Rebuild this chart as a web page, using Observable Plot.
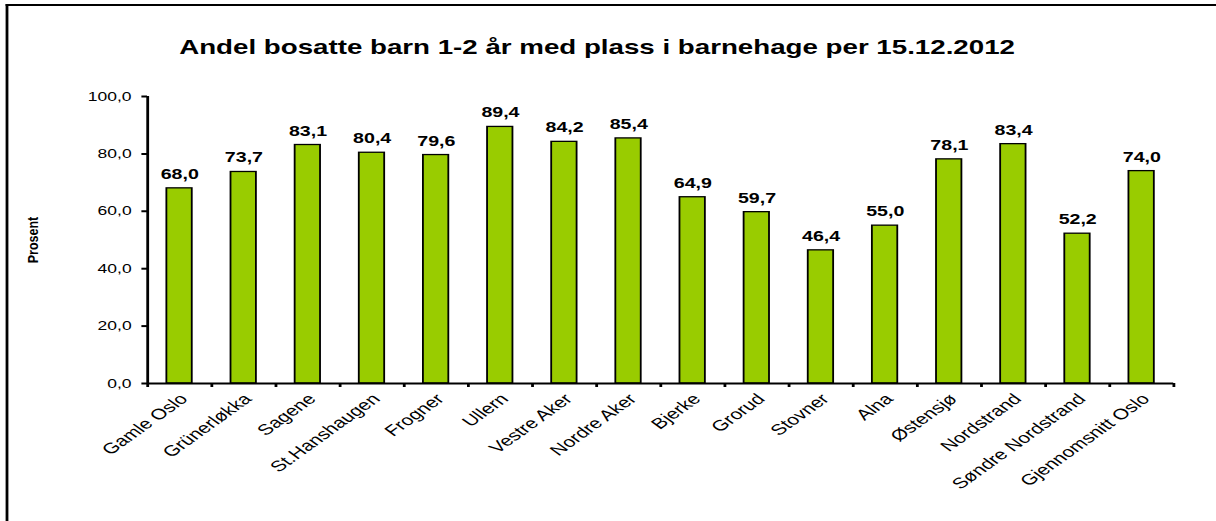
<!DOCTYPE html>
<html>
<head>
<meta charset="utf-8">
<script src="https://cdn.jsdelivr.net/npm/d3@7"></script>
<script src="https://cdn.jsdelivr.net/npm/@observablehq/plot@0.6"></script>
<style>
  html, body { margin: 0; padding: 0; background: #fff; overflow: hidden; }
  body { width: 1216px; height: 521px; position: relative; }
  #wrap { position: absolute; left: 0; top: 0; width: 868.57px; height: 521px; overflow: hidden;
          transform: scaleX(1.4); transform-origin: 0 0; font-family: Arial, "Liberation Sans", sans-serif; }
  #frame { position: absolute; left: 4.3px; top: 4px; width: 880px; height: 530px;
           border-top: 2.5px solid #000; border-left: 2.2px solid #000; box-sizing: border-box; }
  #title { position: absolute; left: 0; top: 38px; width: 853px; text-align: center;
           font-size: 19.8px; font-weight: bold; line-height: 19.8px; color: #000; white-space: nowrap; }
  #ylabel { position: absolute; left: 23.6px; top: 240px; font-size: 12.5px; font-weight: bold;
            white-space: nowrap; transform: translate(-50%, -50%) rotate(-90deg) scale(1, 0.8); }
  #chart { position: absolute; left: 0; top: 70px; width: 868px; }
</style>
</head>
<body>
<div id="wrap">
  <div id="frame"></div>
  <div id="title"></div>
  <div id="ylabel"></div>
  <div id="chart"></div>
</div>
<script>
const titleText = "Andel bosatte barn 1-2 år med plass i barnehage per 15.12.2012";
const yLabel = "Prosent";
const categories = [
  "Gamle Oslo", "Grünerløkka", "Sagene", "St.Hanshaugen", "Frogner", "Ullern",
  "Vestre Aker", "Nordre Aker", "Bjerke", "Grorud", "Stovner", "Alna",
  "Østensjø", "Nordstrand", "Søndre Nordstrand", "Gjennomsnitt Oslo"
];
const values = [68.0, 73.7, 83.1, 80.4, 79.6, 89.4, 84.2, 85.4, 64.9, 59.7, 46.4, 55.0, 78.1, 83.4, 52.2, 74.0];
const yTicks = [0, 20, 40, 60, 80, 100];

const data = categories.map((c, i) => ({district: c, value: values[i]}));
const fmt = v => v.toFixed(1).replace(".", ",");

document.getElementById("title").textContent = titleText;
document.getElementById("ylabel").textContent = yLabel;

const W = 868, ML = 105, MR = 30;
const bw = (W - ML - MR) / categories.length;

const plot = Plot.plot({
  width: W,
  height: 451,
  marginTop: 26,
  marginBottom: 138,
  marginLeft: ML,
  marginRight: MR,
  style: {fontFamily: "Arial, 'Liberation Sans', sans-serif", fontSize: "12.5px", background: "transparent", color: "#000"},
  x: {type: "band", domain: categories, padding: 0, round: false, axis: null},
  y: {domain: [0, 100], axis: null},
  marks: [
    Plot.barY(data, {x: "district", y: "value", fill: "#99cc00", stroke: "#000", strokeWidth: 1.3,
      insetLeft: bw * 0.302, insetRight: bw * 0.302}),
    Plot.ruleY([0], {strokeWidth: 2}),
    Plot.ruleX([categories[0]], {dx: -bw / 2, y1: 0, y2: 100, strokeWidth: 2}),
    Plot.ruleX(categories, {dx: -bw / 2, y1: 0, y2: 0, insetBottom: -4, strokeWidth: 2}),
    Plot.ruleX([categories[categories.length - 1]], {dx: bw / 2, y1: 0, y2: 0, insetBottom: -4, strokeWidth: 2}),
    Plot.axisY({ticks: yTicks, tickSize: 4, tickPadding: 7.5, tickFormat: fmt, fontSize: 12.5, label: null, strokeWidth: 2}),
    Plot.axisX({tickSize: 0, tickPadding: 13, dx: 3, tickRotate: -45, fontSize: 15, label: null}),
    Plot.text(data, {x: "district", y: "value", text: d => fmt(d.value), dy: -9.5, lineAnchor: "bottom",
      fontWeight: "bold", fontSize: 14})
  ]
});
document.getElementById("chart").appendChild(plot);
</script>
</body>
</html>
